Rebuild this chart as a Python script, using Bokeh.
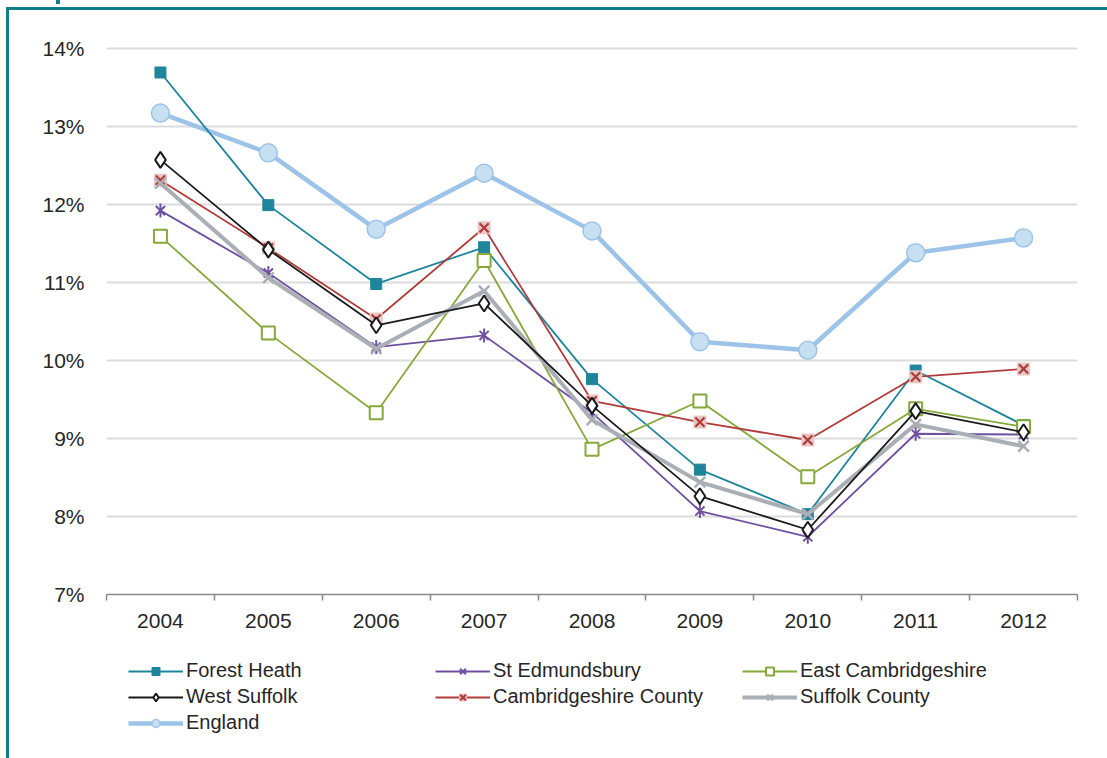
import math
from bokeh.plotting import figure
from bokeh.layouts import column
from bokeh.models import (FixedTicker, PrintfTickFormatter, Legend, LegendItem,
                          Range1d, InlineStyleSheet)
from bokeh.embed import file_html
from bokeh.resources import INLINE

# Annual rates (%) by area
years = ["2004", "2005", "2006", "2007", "2008", "2009", "2010", "2011", "2012"]
forest_heath = [13.69, 11.99, 10.98, 11.45, 9.76, 8.60, 8.03, 9.87, 9.17]
st_edmundsbury = [11.92, 11.12, 10.17, 10.32, 9.33, 8.07, 7.74, 9.06, 9.05]
east_cambridgeshire = [11.59, 10.35, 9.33, 11.28, 8.86, 9.48, 8.51, 9.38, 9.15]
west_suffolk = [12.57, 11.42, 10.45, 10.73, 9.42, 8.26, 7.83, 9.35, 9.08]
cambridgeshire_county = [12.31, 11.44, 10.53, 11.70, 9.48, 9.21, 8.98, 9.79, 9.89]
suffolk_county = [12.27, 11.06, 10.15, 10.89, 9.24, 8.44, 8.03, 9.18, 8.90]
england = [13.17, 12.66, 11.68, 12.40, 11.66, 10.24, 10.13, 11.38, 11.57]
y_ticks = [7, 8, 9, 10, 11, 12, 13, 14]

FONT = "Liberation Sans"
TEXT = "#262626"
FRAME = "#0f7f8c"

xs = list(range(len(years)))

# teal panel frame (left and top edges) drawn around the whole page content
frame_css = InlineStyleSheet(css=f"""
:host {{ position: relative; }}
:host::after {{
  content: ""; position: absolute; left: 6px; top: 7px;
  width: calc(100% - 6px); height: calc(100% - 7px);
  border-left: 3px solid {FRAME}; border-top: 3px solid {FRAME};
  box-sizing: border-box; pointer-events: none; z-index: 10;
}}
:host::before {{
  content: ""; position: absolute; left: 56px; top: 0px; width: 4px; height: 4px;
  background: {FRAME}; pointer-events: none; z-index: 10;
}}
""")

p = figure(width=1107, height=650, output_backend="svg", toolbar_location=None,
           tools="", x_range=Range1d(-0.5, len(years) - 0.5), y_range=Range1d(7, 14.1),
           min_border_left=106, min_border_right=30, min_border_top=40,
           min_border_bottom=56)
p.outline_line_color = None
p.background_fill_color = "white"
p.border_fill_color = "white"

# x axis: labels at category centres, small ticks at category boundaries
p.xaxis.ticker = FixedTicker(ticks=xs, minor_ticks=[i - 0.5 for i in range(len(years) + 1)])
p.xaxis.major_label_overrides = {i: y for i, y in enumerate(years)}
p.xaxis.axis_line_color = "#8a8a8a"
p.xaxis.axis_line_width = 1.5
p.xaxis.major_tick_out = 0
p.xaxis.major_tick_in = 0
p.xaxis.minor_tick_out = 6
p.xaxis.minor_tick_in = 0
p.xaxis.minor_tick_line_color = "#8a8a8a"
p.xaxis.minor_tick_line_width = 1.5
p.xaxis.major_label_standoff = 13
p.xaxis.major_label_text_font = FONT
p.xaxis.major_label_text_font_size = "21px"
p.xaxis.major_label_text_color = TEXT

p.yaxis.ticker = FixedTicker(ticks=y_ticks)
p.yaxis.formatter = PrintfTickFormatter(format="%d%%")
p.yaxis.axis_line_color = None
p.yaxis.major_tick_line_color = None
p.yaxis.minor_tick_line_color = None
p.yaxis.major_label_standoff = 16
p.yaxis.major_label_text_font = FONT
p.yaxis.major_label_text_font_size = "21px"
p.yaxis.major_label_text_color = TEXT

p.xgrid.visible = False
p.ygrid.ticker = FixedTicker(ticks=y_ticks)
p.ygrid.grid_line_color = "#dcdcdc"
p.ygrid.grid_line_width = 2

# series styles
TEAL = "#1f859b"
PURPLE = "#6e50a0"
GREEN = "#86a83c"
BLACK = "#1a1a1a"
RED = "#b03c3a"
GREY = "#a9afb4"
BLUE = "#9dc3e8"

styles = {
    "England": [
        ("line", dict(line_color=BLUE, line_width=4.5)),
        ("scatter", dict(marker="circle", size=18, fill_color="#c7e0f1",
                         line_color=BLUE, line_width=1.5)),
    ],
    "Forest Heath": [
        ("line", dict(line_color=TEAL, line_width=1.8)),
        ("scatter", dict(marker="square", size=11, fill_color=TEAL, line_color=TEAL)),
    ],
    "St Edmundsbury": [
        ("line", dict(line_color=PURPLE, line_width=1.8)),
        ("scatter", dict(marker="x", size=13, line_color=PURPLE, line_width=2)),
        ("scatter", dict(marker="dash", size=14, angle=math.pi / 2,
                         line_color=PURPLE, line_width=2)),
    ],
    "East Cambridgeshire": [
        ("line", dict(line_color=GREEN, line_width=1.8)),
        ("scatter", dict(marker="square", size=13, fill_color="white",
                         line_color=GREEN, line_width=2)),
    ],
    "Cambridgeshire County": [
        ("line", dict(line_color=RED, line_width=1.8)),
        ("scatter", dict(marker="square", size=13, fill_color="#e8c6c5", line_color=None)),
        ("scatter", dict(marker="x", size=13, line_color=RED, line_width=2.2)),
    ],
    "Suffolk County": [
        ("line", dict(line_color=GREY, line_width=4)),
        ("scatter", dict(marker="x", size=15, line_color=GREY, line_width=2.5)),
    ],
    "West Suffolk": [
        ("line", dict(line_color=BLACK, line_width=1.8)),
        ("scatter", dict(marker="diamond", size=16, fill_color="white",
                         line_color=BLACK, line_width=2)),
    ],
}

series = {
    "England": england,
    "Forest Heath": forest_heath,
    "St Edmundsbury": st_edmundsbury,
    "East Cambridgeshire": east_cambridgeshire,
    "Cambridgeshire County": cambridgeshire_county,
    "Suffolk County": suffolk_county,
    "West Suffolk": west_suffolk,
}

# draw the series (England underneath, West Suffolk on top)
for name, values in series.items():
    for kind, kw in styles[name]:
        getattr(p, kind)(xs, values, **kw)

# legend strip below the chart, laid out in three columns; its own renderers
# carry the same series but sit outside this strip's visible range
leg_fig = figure(width=1107, height=108, output_backend="svg", toolbar_location=None,
                 tools="", x_range=Range1d(100, 101), y_range=Range1d(100, 101),
                 x_axis_location=None, y_axis_location=None,
                 min_border_left=0, min_border_right=0, min_border_top=0,
                 min_border_bottom=0)
leg_fig.outline_line_color = None
leg_fig.xgrid.visible = False
leg_fig.ygrid.visible = False
leg_fig.border_fill_color = "white"

legend_order = ["Forest Heath", "St Edmundsbury", "East Cambridgeshire",
                "West Suffolk", "Cambridgeshire County", "Suffolk County", "England"]
items = []
for name in legend_order:
    rs = [getattr(leg_fig, kind)(xs, series[name], **kw) for kind, kw in styles[name]]
    items.append(LegendItem(label=name, renderers=rs))

legend = Legend(items=items, location=(22, 24), orientation="horizontal", ncols=3)
legend.label_text_font = FONT
legend.label_text_font_size = "20px"
legend.label_text_color = TEXT
legend.label_height = 20
legend.label_width = 246
legend.glyph_height = 20
legend.glyph_width = 55
legend.label_standoff = 3
legend.spacing = 3
legend.padding = 0
legend.margin = 0
legend.border_line_color = None
legend.background_fill_alpha = 0
leg_fig.add_layout(legend)

layout = column(p, leg_fig, spacing=0)
layout.stylesheets = [frame_css]

open("out.html", "w").write(file_html(layout, INLINE))
